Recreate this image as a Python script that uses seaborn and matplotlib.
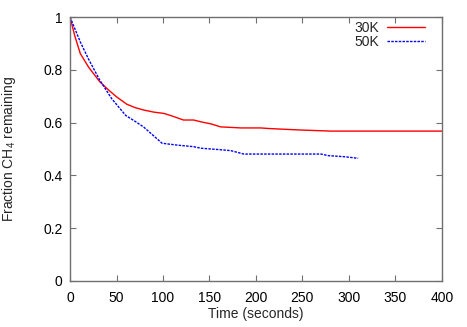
import matplotlib
matplotlib.use("Agg")
import matplotlib.pyplot as plt
import seaborn as sns
import pandas as pd

# 30K run
t_30k = [0, 5, 11, 20, 32, 42, 50, 61, 70, 79, 90, 101, 110, 122, 133, 141, 152, 162, 184, 205, 213, 230, 249, 265, 281, 300, 350, 400]
f_30k = [1.0, 0.93, 0.862, 0.81, 0.755, 0.722, 0.698, 0.67, 0.657, 0.648, 0.64, 0.635, 0.625, 0.61, 0.61, 0.603, 0.595, 0.584, 0.58, 0.58, 0.578, 0.575, 0.572, 0.57, 0.568, 0.568, 0.568, 0.568]

# 50K run
t_50k = [0, 11, 20, 32, 45, 60, 70, 79, 90, 99, 115, 133, 141, 160, 173, 187, 220, 250, 270, 278, 295, 310]
f_50k = [1.0, 0.906, 0.84, 0.761, 0.69, 0.627, 0.605, 0.584, 0.55, 0.522, 0.515, 0.509, 0.503, 0.498, 0.494, 0.481, 0.481, 0.481, 0.481, 0.475, 0.471, 0.465]

df = pd.concat([
    pd.DataFrame({"time": t_30k, "frac": f_30k, "run": "30K"}),
    pd.DataFrame({"time": t_50k, "frac": f_50k, "run": "50K"}),
])

sns.set_style("ticks")
plt.rcParams["font.family"] = ["Liberation Sans", "DejaVu Sans"]
plt.rcParams["font.size"] = 10
plt.rcParams["mathtext.fontset"] = "custom"
plt.rcParams["mathtext.rm"] = "Liberation Sans"
plt.rcParams["mathtext.it"] = "Liberation Sans:italic"

fig = plt.figure(figsize=(4.67, 3.27), dpi=100)
ax = fig.add_axes([0.15, 0.1407, 0.796, 0.807])

sns.lineplot(data=df, x="time", y="frac", hue="run", style="run",
             palette={"30K": "#ff0000", "50K": "#0000ff"},
             dashes={"30K": "", "50K": (1.8, 0.9)}, linewidth=1.0, ax=ax)

ax.set_xlim(0, 400)
ax.set_ylim(0, 1)
ax.set_xticks(range(0, 401, 50))
ax.set_yticks([0, 0.2, 0.4, 0.6, 0.8, 1])
ax.set_yticklabels(["0", "0.2", "0.4", "0.6", "0.8", "1"])
ax.tick_params(direction="in", top=True, right=True, length=4, width=0.8,
               colors="#707070", labelcolor="black", labelsize=10)
ax.tick_params(axis="x", pad=7)
ax.tick_params(axis="y", pad=5.5)
for s in ax.spines.values():
    s.set_color("#707070")
    s.set_linewidth(1.0)

ax.set_xlabel("Time (seconds)", fontsize=10, labelpad=1.5)
ax.set_ylabel(r"Fraction CH$_\mathrm{4}$ remaining", fontsize=10, labelpad=18)

handles, labels = ax.get_legend_handles_labels()
ax.legend(handles, labels, loc="upper right", bbox_to_anchor=(0.954, 0.987),
          frameon=False, markerfirst=False, borderpad=0, borderaxespad=0,
          handlelength=2.7, handletextpad=0.6, labelspacing=0.05, fontsize=10)

fig.savefig("out.png", dpi=100)
